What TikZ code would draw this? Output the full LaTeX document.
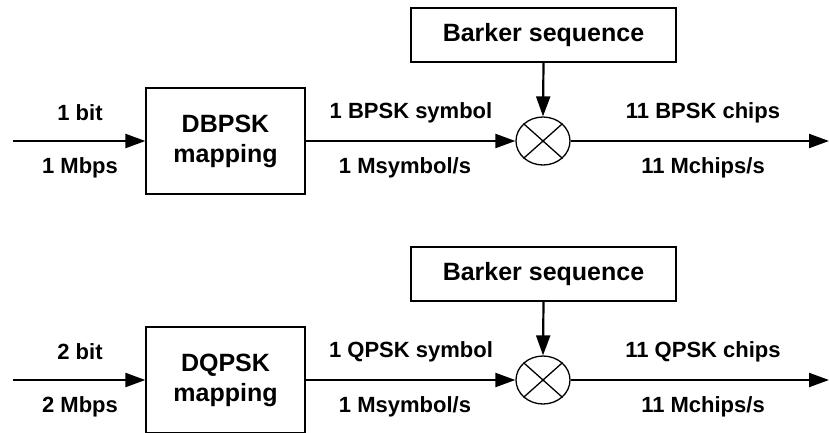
\documentclass[tikz,border=0pt]{standalone}
\usepackage{fontspec}
\setmainfont{Liberation Sans}
\usetikzlibrary{shapes.geometric,arrows.meta}
\begin{document}
\begin{tikzpicture}[x=1pt,y=-1pt,
  blockbox/.style={draw,line width=1.3pt,inner sep=0pt,font=\bfseries\fontsize{25}{30}\selectfont,align=center},
  mixer/.style={draw,line width=1.3pt,ellipse,minimum width=54pt,minimum height=48pt,inner sep=0pt},
  lbl/.style={font=\bfseries\fontsize{22}{26}\selectfont,inner sep=0pt},
  sig/.style={line width=2.2pt,-{Triangle[length=20pt,width=14pt]}}]
\useasboundingbox (0,0) rectangle (829,432);
% ---------- top row ----------
\coordinate (inA) at (13,141);
\coordinate (outA) at (829,141);
\node[blockbox,minimum width=159pt,minimum height=106pt] (mapA) at (225.5,141) {DBPSK\\mapping};
\node[mixer] (mixA) at (543,141) {};
\node[blockbox,minimum width=265pt,minimum height=54pt] (barkA) at (543.5,35) {Barker sequence};
\draw[line width=1.3pt] (mixA.north west) -- (mixA.south east) (mixA.north east) -- (mixA.south west);
\draw[sig] (inA) -- (mapA.west);
\draw[sig] (mapA.east) -- (mixA.west);
\draw[sig] (mixA.east) -- (outA);
\draw[sig] (barkA.south) -- (mixA.north);
\node[lbl] (a1) at (80,113) {1 bit};
\node[lbl] (a2) at (80,168) {1 Mbps};
\node[lbl] (a3) at (411,113) {1 BPSK symbol};
\node[lbl] (a4) at (405,168) {1 Msymbol/s};
\node[lbl] (a5) at (703,113) {11 BPSK chips};
\node[lbl] (a6) at (703,168) {11 Mchips/s};
% ---------- bottom row ----------
\coordinate (inB) at (13,380);
\coordinate (outB) at (829,380);
\node[blockbox,minimum width=159pt,minimum height=106pt] (mapB) at (225.5,380) {DQPSK\\mapping};
\node[mixer] (mixB) at (543,380) {};
\node[blockbox,minimum width=265pt,minimum height=54pt] (barkB) at (543.5,274) {Barker sequence};
\draw[line width=1.3pt] (mixB.north west) -- (mixB.south east) (mixB.north east) -- (mixB.south west);
\draw[sig] (inB) -- (mapB.west);
\draw[sig] (mapB.east) -- (mixB.west);
\draw[sig] (mixB.east) -- (outB);
\draw[sig] (barkB.south) -- (mixB.north);
\node[lbl] (b1) at (80,352) {2 bit};
\node[lbl] (b2) at (80,407) {2 Mbps};
\node[lbl] (b3) at (411,352) {1 QPSK symbol};
\node[lbl] (b4) at (405,407) {1 Msymbol/s};
\node[lbl] (b5) at (703,352) {11 QPSK chips};
\node[lbl] (b6) at (703,407) {11 Mchips/s};
\end{tikzpicture}
\end{document}
